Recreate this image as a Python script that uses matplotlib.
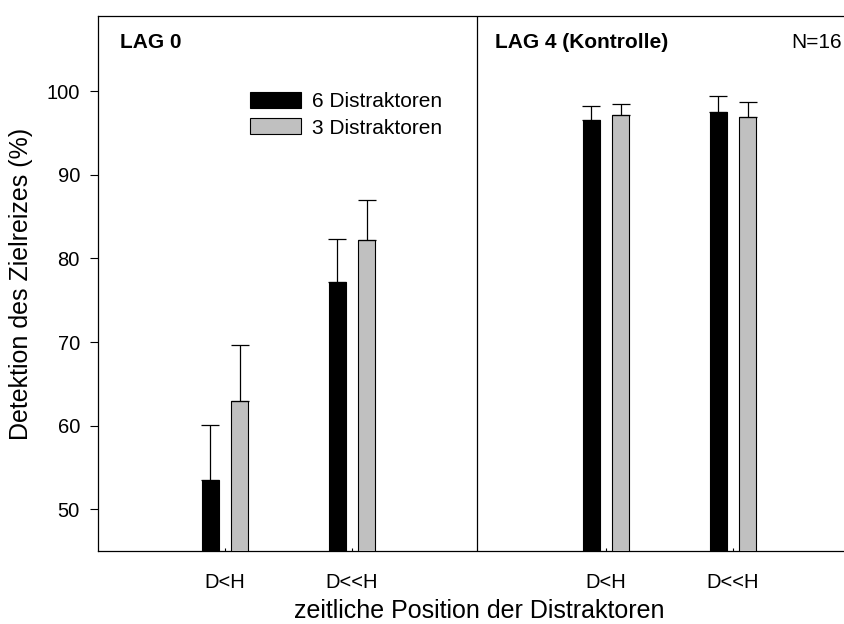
import matplotlib
matplotlib.use('Agg')
import matplotlib.pyplot as plt
import numpy as np

plt.rcParams['font.family'] = ['Liberation Sans', 'DejaVu Sans']

categories = ['D<H', 'D<<H', 'D<H', 'D<<H']
positions = [1, 2, 4, 5]
six_mean = [53.5, 77.2, 96.5, 97.5]
six_err = [6.6, 5.1, 1.7, 1.9]
three_mean = [63.0, 82.2, 97.2, 96.9]
three_err = [6.7, 4.8, 1.3, 1.8]
series_labels = ['6 Distraktoren', '3 Distraktoren']

fig = plt.figure(figsize=(8.44, 6.24), dpi=100)
ax = fig.add_axes([98 / 844, 73 / 624, 762 / 844, 535 / 624])

x = np.array(positions, dtype=float)
off = 0.115
w = 0.14
ax.bar(x - off, six_mean, width=w, color='black', edgecolor='black', linewidth=0.8,
       yerr=[np.zeros(len(six_err)), six_err], error_kw=dict(ecolor='black', elinewidth=0.9, capsize=6.2, capthick=0.9),
       label=series_labels[0], zorder=3)
ax.bar(x + off, three_mean, width=w, color='#c0c0c0', edgecolor='black', linewidth=0.8,
       yerr=[np.zeros(len(three_err)), three_err], error_kw=dict(ecolor='black', elinewidth=0.9, capsize=6.2, capthick=0.9),
       label=series_labels[1], zorder=3)

# Trennlinie zwischen LAG 0 und LAG 4
ax.axvline(2.985, color='black', linewidth=0.9)

ax.set_xlim(0, 6)
ax.set_ylim(45, 109)
ax.set_yticks([50, 60, 70, 80, 90, 100])
ax.set_xticks(positions)
ax.set_xticklabels(categories)
ax.tick_params(axis='y', direction='out', length=6, width=0.8, pad=7, labelsize=14.5)
ax.tick_params(axis='x', direction='in', length=2, width=0.8, pad=16, labelsize=14.5)
ax.spines['right'].set_visible(False)
for s in ['left', 'top', 'bottom']:
    ax.spines[s].set_linewidth(0.9)

ax.set_ylabel('Detektion des Zielreizes (%)', fontsize=18, labelpad=10)
ax.set_xlabel('zeitliche Position der Distraktoren', fontsize=18, labelpad=5)

ax.text(0.17, 105.8, 'LAG 0', fontsize=15, fontweight='bold', va='center')
ax.text(3.125, 105.8, 'LAG 4 (Kontrolle)', fontsize=15, fontweight='bold', va='center')
ax.text(5.86, 105.8, 'N=16', fontsize=15, va='center', ha='right')

ax.legend(loc='upper left', bbox_to_anchor=(0.199, 0.858), frameon=False, fontsize=15,
          handlelength=2.45, handleheight=0.8, handletextpad=0.55, labelspacing=0.35,
          borderpad=0, borderaxespad=0)

fig.savefig('out.png', dpi=100)
